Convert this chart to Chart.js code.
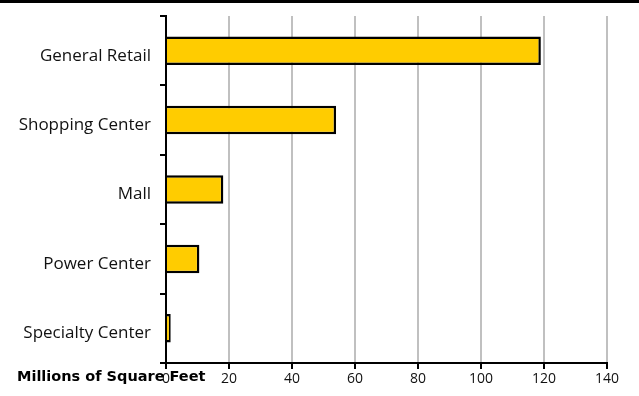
<!DOCTYPE html>
<html>
<head>
<meta charset="utf-8">
<script src="https://cdn.jsdelivr.net/npm/chart.js@4/dist/chart.umd.min.js"></script>
<style>
html,body{margin:0;padding:0;background:#fff;}
#wrap{position:relative;width:639px;height:396px;}
#topline{position:absolute;left:0;top:0;width:639px;height:3px;background:#000;}
canvas{position:absolute;left:0;top:0;}
</style>
</head>
<body>
<div id="wrap"><canvas id="c" width="639" height="396"></canvas><div id="topline"></div></div>
<script>
const categories = ["General Retail", "Shopping Center", "Mall", "Power Center", "Specialty Center"];
const squareFeet = [119, 54, 18.2, 10.6, 1.5];
const xTicks = [0, 20, 40, 60, 80, 100, 120, 140];
const axisTitle = "Millions of Square Feet";

const FONT = "'Open Sans', 'Noto Sans', sans-serif";

const titlePlugin = {
  id: 'xTitle',
  afterDraw(chart) {
    const ctx = chart.ctx;
    ctx.save();
    ctx.font = "bold 14.5px 'DejaVu Sans', sans-serif";
    ctx.fillStyle = "#000";
    ctx.textBaseline = "middle";
    ctx.textAlign = "left";
    ctx.fillText(axisTitle, 17, chart.chartArea.bottom + 14);
    ctx.restore();
  }
};

new Chart(document.getElementById('c'), {
  type: 'bar',
  data: {
    labels: categories,
    datasets: [{
      data: squareFeet,
      backgroundColor: '#FFCC00',
      borderColor: '#000',
      borderWidth: 2.5,
      barPercentage: 0.41,
      categoryPercentage: 1.0
    }]
  },
  options: {
    indexAxis: 'y',
    responsive: false,
    animation: false,
    layout: { padding: { left: 0, right: 32, top: 16, bottom: 0 } },
    plugins: { legend: { display: false }, tooltip: { enabled: false } },
    scales: {
      x: {
        min: 0, max: 140,
        afterBuildTicks(scale) { scale.ticks = xTicks.map(v => ({ value: v })); },
        afterFit(scale) { scale.height = 33; scale.paddingRight = 0; },
        grid: { color: '#c0c0c0', lineWidth: 2, tickColor: '#000', tickLength: 6, drawTicks: true },
        border: { color: '#000', width: 2 },
        ticks: { font: { family: FONT, size: 14 }, color: '#111', padding: 2, maxRotation: 0 }
      },
      y: {
        afterFit(scale) { scale.width = 166; scale.paddingTop = 0; scale.paddingBottom = 0; },
        grid: { display: true, drawOnChartArea: false, offset: true, color: '#000', tickColor: '#000', lineWidth: 2, tickLength: 6 },
        border: { color: '#000', width: 2 },
        ticks: { font: { family: FONT, size: 17 }, color: '#111', padding: 9, labelOffset: 5 }
      }
    }
  },
  plugins: [titlePlugin]
});
</script>
</body>
</html>
